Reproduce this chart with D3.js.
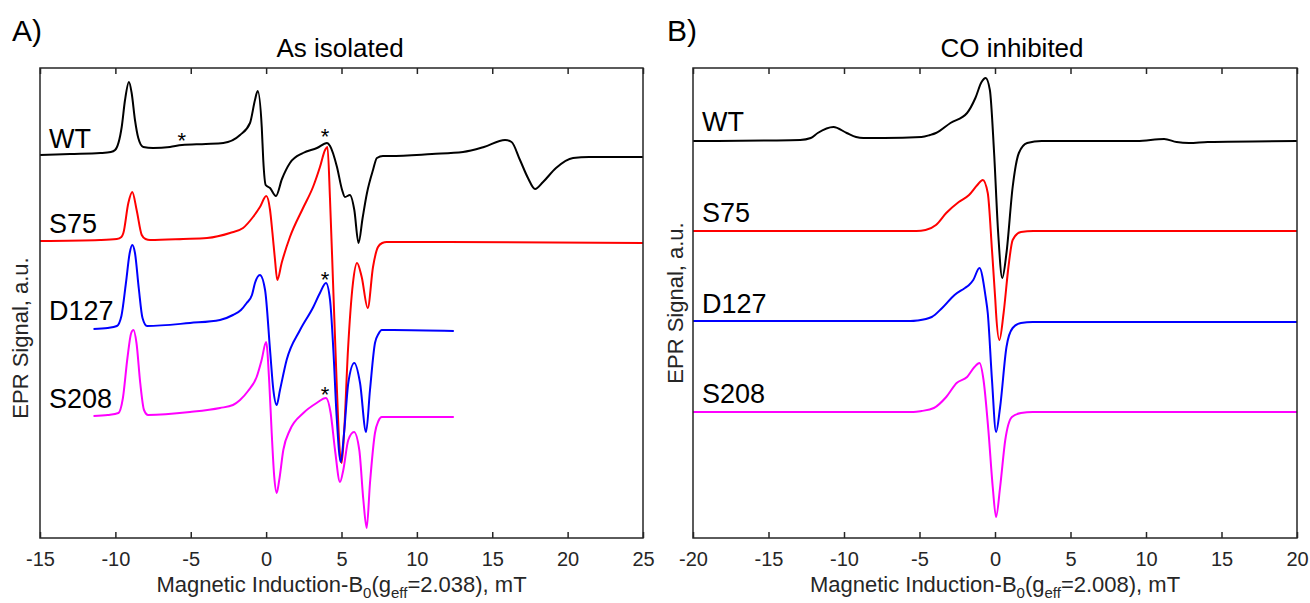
<!DOCTYPE html>
<html>
<head>
<meta charset="utf-8">
<script src="https://cdn.jsdelivr.net/npm/d3@7"></script>
<style>
  body { margin: 0; background: #fff; }
  svg { font-family: "Liberation Sans", Arial, sans-serif; }
</style>
</head>
<body>
<svg id="chart" width="1310" height="603"></svg>
<script>
// spectra: [B (mT), signal (a.u., stacked)]
const wtIsolated = [[-15,383],[-13,384],[-11,385],[-10.3,386],[-10.02,388],[-9.58,411],[-9.36,438],[-9.1,456],[-8.92,445],[-8.7,418],[-8.48,400],[-8.15,391],[-7.5,390],[-6.38,391],[-5.58,393],[-4,394],[-2.84,395],[-1.73,403],[-1.07,415],[-0.74,438],[-0.56,447],[-0.29,411],[-0.19,378],[-0.03,353],[0.26,350],[0.65,342],[1.05,359],[1.58,375],[2.45,385],[3.37,390],[4.04,395],[4.24,392],[4.7,371],[5.04,348],[5.23,341],[5.56,343],[5.85,328],[6.13,295],[6.4,320],[6.69,345],[7.09,368],[7.35,380],[7.75,382],[8.22,382],[11,384],[13.06,386],[14.45,391],[15.85,398],[16.28,396],[16.84,378],[17.37,360],[17.84,349],[18.37,356],[19.23,370],[20.36,380],[21.42,381],[25,381]];
const s75Isolated = [[-15,297],[-11,298],[-9.9,299],[-9.6,301],[-9.47,305],[-9.14,335],[-8.88,346],[-8.59,328],[-8.25,303],[-8.0,299],[-7.7,298],[-5.5,299],[-3.92,300],[-2.4,305],[-1.53,310],[-0.87,321],[-0.41,331],[0.01,342],[0.26,328],[0.42,305],[0.59,278],[0.74,258],[1.03,275],[1.58,301],[2.45,330],[3.11,351],[3.57,371],[3.91,388],[4.07,391],[4.24,338],[4.44,255],[4.68,155],[4.85,95],[5.01,75],[5.17,105],[5.43,188],[5.76,255],[6.03,275],[6.34,261],[6.74,230],[7.09,271],[7.42,291],[7.7,295],[8,296],[12,296],[25,295]];
const d127Isolated = [[-11.45,209],[-10.5,210],[-9.9,212],[-9.6,222],[-9.3,255],[-9.05,285],[-8.88,293],[-8.7,285],[-8.45,250],[-8.2,220],[-7.9,212],[-5.05,215],[-3.06,218],[-2.2,223],[-1.67,228],[-1.29,235],[-0.94,243],[-0.74,255],[-0.41,263],[-0.07,248],[0.26,188],[0.48,148],[0.7,133],[0.92,148],[1.36,178],[2.25,208],[3.13,231],[3.57,245],[3.97,255],[4.24,238],[4.46,188],[4.68,121],[4.95,76],[5.17,105],[5.45,155],[5.85,175],[6.23,155],[6.63,106],[6.89,148],[7.22,195],[7.45,204],[7.67,208],[8.44,208],[12.45,207]];
const s208Isolated = [[-11.45,122],[-10.5,123],[-9.8,125],[-9.5,140],[-9.2,180],[-8.95,205],[-8.8,208],[-8.6,195],[-8.35,155],[-8.1,128],[-7.83,123],[-5.05,126],[-3.06,130],[-2.2,133],[-1.73,138],[-1.2,147],[-0.63,161],[-0.3,178],[0,196],[0.21,155],[0.37,105],[0.54,61],[0.7,45],[0.87,58],[1.14,88],[1.58,108],[2.47,125],[3.35,135],[3.97,140],[4.28,125],[4.57,88],[4.9,56],[5.12,68],[5.45,98],[5.83,106],[6.18,88],[6.45,38],[6.67,10],[6.89,55],[7.22,105],[7.45,117],[7.67,121],[12.45,121]];

const wtCO = [[-20,397],[-15,397.5],[-12.9,398],[-12.2,400],[-11.74,405],[-10.7,411],[-9.82,405],[-9.2,401],[-8.72,400],[-7.35,400],[-4.87,401],[-4.3,403],[-3.91,405],[-2.95,415],[-1.85,425],[-1.3,440],[-0.89,456],[-0.62,460],[-0.34,448],[-0.07,388],[0.21,305],[0.48,260],[0.76,285],[1.17,351],[1.58,385],[2.13,395],[3.09,397],[9.41,397],[11.2,399],[12.03,396],[12.85,395],[14.09,396],[20,397]];
const s75CO = [[-20,307],[-5.2,307],[-4.6,308],[-3.91,313],[-3.23,325],[-2.4,336],[-1.72,343],[-1.17,353],[-0.81,358],[-0.48,345],[-0.2,288],[0.02,238],[0.07,225],[0.29,198],[0.57,225],[0.89,271],[1.17,298],[1.72,306],[2.54,307],[20,307]];
const d127CO = [[-20,217],[-5.6,217],[-5.14,217.5],[-4.19,221],[-3.5,230],[-2.68,243],[-1.99,250],[-1.72,253],[-1.44,258],[-1.03,270],[-0.62,241],[-0.48,225],[-0.2,158],[0.07,106],[0.34,131],[0.76,191],[1.17,210],[1.72,215],[2.5,216],[20,216]];
const s208CO = [[-20,126],[-5.4,126],[-4.87,127],[-4.05,130],[-3.23,141],[-2.54,155],[-1.85,161],[-1.36,171],[-1.03,175],[-0.76,158],[-0.44,108],[-0.15,51],[0.07,21],[0.34,51],[0.68,98],[1.12,121],[1.72,125],[2.5,126],[20,126]];

const sampleNames = ["WT", "S75", "D127", "S208"];
const sampleColors = ["#000000", "#ff0000", "#0000ff", "#ff00ff"];
const labelLevelsA = [390, 305, 218, 130];
const labelLevelsB = [407, 316, 225, 135];
const starsA = [[-5.59, 403], [3.91, 407], [3.91, 264], [3.91, 149]];
const ticksA = [-15, -10, -5, 0, 5, 10, 15, 20, 25];
const ticksB = [-20, -15, -10, -5, 0, 5, 10, 15, 20];

const svg = d3.select("#chart");
const plotTop = 68, plotBottom = 538;
const y = d3.scaleLinear().domain([0, 470]).range([plotBottom, plotTop]);

function drawPanel(opts) {
    const x = d3.scaleLinear().domain(opts.domain).range(opts.range);
    const g = svg.append("g");

    const line = d3.line()
        .curve(d3.curveMonotoneX)
        .x(d => x(d[0]))
        .y(d => y(d[1]));

    opts.series.forEach((s, i) => {
        g.append("path")
            .datum(s)
            .attr("fill", "none")
            .attr("stroke", sampleColors[i])
            .attr("stroke-width", 2)
            .attr("stroke-linejoin", "round")
            .attr("d", line);
    });

    // box
    g.append("rect")
        .attr("x", opts.range[0]).attr("y", plotTop)
        .attr("width", opts.range[1] - opts.range[0])
        .attr("height", plotBottom - plotTop)
        .attr("fill", "none")
        .attr("stroke", "#262626")
        .attr("stroke-width", 1.5);

    // inward ticks, bottom + top (hyphen minus like the original)
    const xAxis = g.append("g")
        .attr("transform", `translate(0,${plotBottom})`)
        .call(d3.axisBottom(x).tickValues(opts.ticks).tickSize(-6).tickPadding(14).tickFormat(d => String(d)));
    xAxis.select(".domain").remove();
    xAxis.selectAll("line").attr("stroke", "#262626").attr("stroke-width", 1.5);
    xAxis.selectAll("text")
        .attr("font-size", 20)
        .attr("fill", "#262626")
        .attr("font-family", "Liberation Sans, Arial, sans-serif")
        .attr("dy", "0.72em");

    const topAxis = g.append("g")
        .attr("transform", `translate(0,${plotTop})`)
        .call(d3.axisTop(x).tickValues(opts.ticks).tickSize(-6).tickFormat(""));
    topAxis.select(".domain").remove();
    topAxis.selectAll("line").attr("stroke", "#262626").attr("stroke-width", 1.5);

    // sample labels
    sampleNames.forEach((n, i) => {
        g.append("text")
            .attr("x", opts.range[0] + 9)
            .attr("y", y(opts.labels[i]))
            .attr("font-size", 27)
            .attr("fill", "#000")
            .text(n);
    });

    (opts.stars || []).forEach(s => {
        g.append("text")
            .attr("x", x(s[0]))
            .attr("y", y(s[1]) + 13)
            .attr("text-anchor", "middle")
            .attr("font-size", 22)
            .text("*");
    });

    const cx = (opts.range[0] + opts.range[1]) / 2;

    g.append("text")
        .attr("x", opts.titleX).attr("y", 57)
        .attr("text-anchor", "middle")
        .attr("font-size", 26)
        .text(opts.title);

    g.append("text")
        .attr("x", opts.letterX).attr("y", 41)
        .attr("font-size", 30)
        .text(opts.letter);

    const xl = g.append("text")
        .attr("x", cx).attr("y", 592)
        .attr("text-anchor", "middle")
        .attr("font-size", 22)
        .attr("fill", "#262626");
    xl.append("tspan").text("Magnetic Induction-B");
    xl.append("tspan").attr("font-size", 15).attr("dy", 6).text("0");
    xl.append("tspan").attr("dy", -6).text("(g");
    xl.append("tspan").attr("font-size", 15).attr("dy", 6).text("eff");
    xl.append("tspan").attr("dy", -6).text(opts.gLabel);

    g.append("text")
        .attr("transform", `translate(${opts.yLabelX},${opts.yLabelY}) rotate(-90)`)
        .attr("text-anchor", "middle")
        .attr("font-size", 22)
        .attr("fill", "#262626")
        .text("EPR Signal, a.u.");
}

drawPanel({
    domain: [-15, 25], range: [40, 643], ticks: ticksA,
    series: [wtIsolated, s75Isolated, d127Isolated, s208Isolated],
    labels: labelLevelsA, stars: starsA,
    title: "As isolated", titleX: 340, letter: "A)", letterX: 12,
    gLabel: "=2.038), mT", yLabelX: 28, yLabelY: 338
});

drawPanel({
    domain: [-20, 20], range: [693, 1297], ticks: ticksB,
    series: [wtCO, s75CO, d127CO, s208CO],
    labels: labelLevelsB,
    title: "CO inhibited", titleX: 1012, letter: "B)", letterX: 667,
    gLabel: "=2.008), mT", yLabelX: 683, yLabelY: 303
});
</script>
</body>
</html>
